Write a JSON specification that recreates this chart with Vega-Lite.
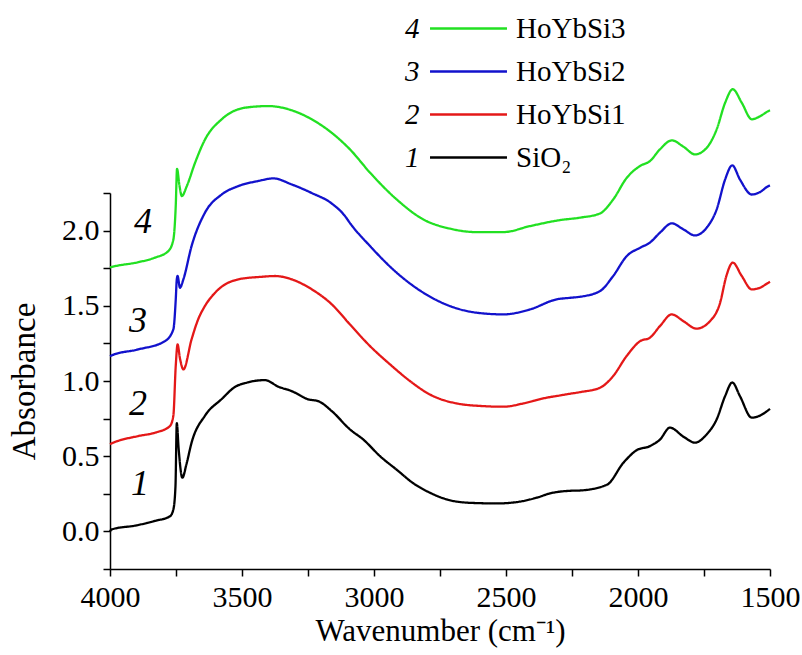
{
  "$schema": "https://vega.github.io/schema/vega-lite/v6.json",
  "width": 660,
  "height": 376,
  "autosize": {"type": "none"},
  "padding": {"left": 110, "top": 193, "right": 32, "bottom": 86},
  "background": "white",
  "config": {
    "view": {"stroke": null},
    "font": "Liberation Serif",
    "axis": {
      "grid": false,
      "domainColor": "black",
      "domainWidth": 1.5,
      "tickColor": "black",
      "tickWidth": 1.5,
      "tickSize": 7,
      "labelColor": "black",
      "labelFont": "Liberation Serif",
      "labelFontSize": 30,
      "titleColor": "black",
      "titleFont": "Liberation Serif",
      "titleFontWeight": "normal",
      "labelFlush": false,
      "labelOverlap": false,
      "tickCount": 30
    }
  },
  "datasets": {
    "spectra": [
      {"name": "SiO₂", "num": "1", "wn": 4000, "a": 0.0},
      {"name": "SiO₂", "num": "1", "wn": 3994, "a": 0.013},
      {"name": "SiO₂", "num": "1", "wn": 3900, "a": 0.04},
      {"name": "SiO₂", "num": "1", "wn": 3830, "a": 0.07},
      {"name": "SiO₂", "num": "1", "wn": 3773, "a": 0.1},
      {"name": "SiO₂", "num": "1", "wn": 3760, "a": 0.146},
      {"name": "SiO₂", "num": "1", "wn": 3752, "a": 0.3},
      {"name": "SiO₂", "num": "1", "wn": 3747, "a": 0.72},
      {"name": "SiO₂", "num": "1", "wn": 3740, "a": 0.55},
      {"name": "SiO₂", "num": "1", "wn": 3726, "a": 0.357},
      {"name": "SiO₂", "num": "1", "wn": 3710, "a": 0.45},
      {"name": "SiO₂", "num": "1", "wn": 3691, "a": 0.59},
      {"name": "SiO₂", "num": "1", "wn": 3640, "a": 0.77},
      {"name": "SiO₂", "num": "1", "wn": 3577, "a": 0.88},
      {"name": "SiO₂", "num": "1", "wn": 3527, "a": 0.96},
      {"name": "SiO₂", "num": "1", "wn": 3480, "a": 0.99},
      {"name": "SiO₂", "num": "1", "wn": 3413, "a": 1.006},
      {"name": "SiO₂", "num": "1", "wn": 3362, "a": 0.962},
      {"name": "SiO₂", "num": "1", "wn": 3312, "a": 0.933},
      {"name": "SiO₂", "num": "1", "wn": 3249, "a": 0.878},
      {"name": "SiO₂", "num": "1", "wn": 3211, "a": 0.866},
      {"name": "SiO₂", "num": "1", "wn": 3160, "a": 0.8},
      {"name": "SiO₂", "num": "1", "wn": 3091, "a": 0.678},
      {"name": "SiO₂", "num": "1", "wn": 3040, "a": 0.61},
      {"name": "SiO₂", "num": "1", "wn": 2977, "a": 0.5},
      {"name": "SiO₂", "num": "1", "wn": 2914, "a": 0.41},
      {"name": "SiO₂", "num": "1", "wn": 2851, "a": 0.32},
      {"name": "SiO₂", "num": "1", "wn": 2788, "a": 0.257},
      {"name": "SiO₂", "num": "1", "wn": 2725, "a": 0.213},
      {"name": "SiO₂", "num": "1", "wn": 2636, "a": 0.19},
      {"name": "SiO₂", "num": "1", "wn": 2535, "a": 0.186},
      {"name": "SiO₂", "num": "1", "wn": 2459, "a": 0.195},
      {"name": "SiO₂", "num": "1", "wn": 2384, "a": 0.224},
      {"name": "SiO₂", "num": "1", "wn": 2333, "a": 0.253},
      {"name": "SiO₂", "num": "1", "wn": 2258, "a": 0.27},
      {"name": "SiO₂", "num": "1", "wn": 2220, "a": 0.272},
      {"name": "SiO₂", "num": "1", "wn": 2118, "a": 0.31},
      {"name": "SiO₂", "num": "1", "wn": 2055, "a": 0.457},
      {"name": "SiO₂", "num": "1", "wn": 2005, "a": 0.54},
      {"name": "SiO₂", "num": "1", "wn": 1955, "a": 0.567},
      {"name": "SiO₂", "num": "1", "wn": 1917, "a": 0.61},
      {"name": "SiO₂", "num": "1", "wn": 1879, "a": 0.69},
      {"name": "SiO₂", "num": "1", "wn": 1828, "a": 0.63},
      {"name": "SiO₂", "num": "1", "wn": 1784, "a": 0.59},
      {"name": "SiO₂", "num": "1", "wn": 1740, "a": 0.645},
      {"name": "SiO₂", "num": "1", "wn": 1702, "a": 0.745},
      {"name": "SiO₂", "num": "1", "wn": 1670, "a": 0.9},
      {"name": "SiO₂", "num": "1", "wn": 1643, "a": 0.99},
      {"name": "SiO₂", "num": "1", "wn": 1614, "a": 0.9},
      {"name": "SiO₂", "num": "1", "wn": 1569, "a": 0.756},
      {"name": "SiO₂", "num": "1", "wn": 1538, "a": 0.77},
      {"name": "SiO₂", "num": "1", "wn": 1500, "a": 0.815},

      {"name": "HoYbSi1", "num": "2", "wn": 4000, "a": 0.58},
      {"name": "HoYbSi1", "num": "2", "wn": 3994, "a": 0.585},
      {"name": "HoYbSi1", "num": "2", "wn": 3893, "a": 0.634},
      {"name": "HoYbSi1", "num": "2", "wn": 3830, "a": 0.656},
      {"name": "HoYbSi1", "num": "2", "wn": 3773, "a": 0.7},
      {"name": "HoYbSi1", "num": "2", "wn": 3760, "a": 0.77},
      {"name": "HoYbSi1", "num": "2", "wn": 3751, "a": 1.1},
      {"name": "HoYbSi1", "num": "2", "wn": 3744, "a": 1.243},
      {"name": "HoYbSi1", "num": "2", "wn": 3735, "a": 1.15},
      {"name": "HoYbSi1", "num": "2", "wn": 3722, "a": 1.077},
      {"name": "HoYbSi1", "num": "2", "wn": 3691, "a": 1.277},
      {"name": "HoYbSi1", "num": "2", "wn": 3666, "a": 1.41},
      {"name": "HoYbSi1", "num": "2", "wn": 3640, "a": 1.5},
      {"name": "HoYbSi1", "num": "2", "wn": 3602, "a": 1.587},
      {"name": "HoYbSi1", "num": "2", "wn": 3514, "a": 1.676},
      {"name": "HoYbSi1", "num": "2", "wn": 3425, "a": 1.693},
      {"name": "HoYbSi1", "num": "2", "wn": 3375, "a": 1.698},
      {"name": "HoYbSi1", "num": "2", "wn": 3312, "a": 1.676},
      {"name": "HoYbSi1", "num": "2", "wn": 3236, "a": 1.61},
      {"name": "HoYbSi1", "num": "2", "wn": 3160, "a": 1.51},
      {"name": "HoYbSi1", "num": "2", "wn": 3091, "a": 1.376},
      {"name": "HoYbSi1", "num": "2", "wn": 3015, "a": 1.232},
      {"name": "HoYbSi1", "num": "2", "wn": 2939, "a": 1.11},
      {"name": "HoYbSi1", "num": "2", "wn": 2864, "a": 1.0},
      {"name": "HoYbSi1", "num": "2", "wn": 2788, "a": 0.91},
      {"name": "HoYbSi1", "num": "2", "wn": 2687, "a": 0.851},
      {"name": "HoYbSi1", "num": "2", "wn": 2586, "a": 0.833},
      {"name": "HoYbSi1", "num": "2", "wn": 2510, "a": 0.829},
      {"name": "HoYbSi1", "num": "2", "wn": 2434, "a": 0.851},
      {"name": "HoYbSi1", "num": "2", "wn": 2346, "a": 0.889},
      {"name": "HoYbSi1", "num": "2", "wn": 2295, "a": 0.904},
      {"name": "HoYbSi1", "num": "2", "wn": 2258, "a": 0.915},
      {"name": "HoYbSi1", "num": "2", "wn": 2220, "a": 0.926},
      {"name": "HoYbSi1", "num": "2", "wn": 2144, "a": 0.955},
      {"name": "HoYbSi1", "num": "2", "wn": 2094, "a": 1.033},
      {"name": "HoYbSi1", "num": "2", "wn": 2043, "a": 1.166},
      {"name": "HoYbSi1", "num": "2", "wn": 1992, "a": 1.265},
      {"name": "HoYbSi1", "num": "2", "wn": 1955, "a": 1.288},
      {"name": "HoYbSi1", "num": "2", "wn": 1917, "a": 1.365},
      {"name": "HoYbSi1", "num": "2", "wn": 1872, "a": 1.443},
      {"name": "HoYbSi1", "num": "2", "wn": 1828, "a": 1.398},
      {"name": "HoYbSi1", "num": "2", "wn": 1779, "a": 1.348},
      {"name": "HoYbSi1", "num": "2", "wn": 1727, "a": 1.398},
      {"name": "HoYbSi1", "num": "2", "wn": 1689, "a": 1.52},
      {"name": "HoYbSi1", "num": "2", "wn": 1665, "a": 1.7},
      {"name": "HoYbSi1", "num": "2", "wn": 1641, "a": 1.787},
      {"name": "HoYbSi1", "num": "2", "wn": 1607, "a": 1.698},
      {"name": "HoYbSi1", "num": "2", "wn": 1569, "a": 1.609},
      {"name": "HoYbSi1", "num": "2", "wn": 1538, "a": 1.62},
      {"name": "HoYbSi1", "num": "2", "wn": 1506, "a": 1.654},
      {"name": "HoYbSi1", "num": "2", "wn": 1500, "a": 1.66},

      {"name": "HoYbSi2", "num": "3", "wn": 4000, "a": 1.165},
      {"name": "HoYbSi2", "num": "3", "wn": 3994, "a": 1.17},
      {"name": "HoYbSi2", "num": "3", "wn": 3893, "a": 1.21},
      {"name": "HoYbSi2", "num": "3", "wn": 3792, "a": 1.265},
      {"name": "HoYbSi2", "num": "3", "wn": 3760, "a": 1.343},
      {"name": "HoYbSi2", "num": "3", "wn": 3751, "a": 1.54},
      {"name": "HoYbSi2", "num": "3", "wn": 3747, "a": 1.676},
      {"name": "HoYbSi2", "num": "3", "wn": 3744, "a": 1.698},
      {"name": "HoYbSi2", "num": "3", "wn": 3735, "a": 1.62},
      {"name": "HoYbSi2", "num": "3", "wn": 3722, "a": 1.676},
      {"name": "HoYbSi2", "num": "3", "wn": 3691, "a": 1.897},
      {"name": "HoYbSi2", "num": "3", "wn": 3640, "a": 2.12},
      {"name": "HoYbSi2", "num": "3", "wn": 3577, "a": 2.24},
      {"name": "HoYbSi2", "num": "3", "wn": 3514, "a": 2.296},
      {"name": "HoYbSi2", "num": "3", "wn": 3438, "a": 2.33},
      {"name": "HoYbSi2", "num": "3", "wn": 3381, "a": 2.347},
      {"name": "HoYbSi2", "num": "3", "wn": 3312, "a": 2.307},
      {"name": "HoYbSi2", "num": "3", "wn": 3236, "a": 2.25},
      {"name": "HoYbSi2", "num": "3", "wn": 3160, "a": 2.18},
      {"name": "HoYbSi2", "num": "3", "wn": 3110, "a": 2.097},
      {"name": "HoYbSi2", "num": "3", "wn": 3091, "a": 2.05},
      {"name": "HoYbSi2", "num": "3", "wn": 3015, "a": 1.897},
      {"name": "HoYbSi2", "num": "3", "wn": 2914, "a": 1.72},
      {"name": "HoYbSi2", "num": "3", "wn": 2813, "a": 1.587},
      {"name": "HoYbSi2", "num": "3", "wn": 2712, "a": 1.498},
      {"name": "HoYbSi2", "num": "3", "wn": 2611, "a": 1.454},
      {"name": "HoYbSi2", "num": "3", "wn": 2510, "a": 1.443},
      {"name": "HoYbSi2", "num": "3", "wn": 2409, "a": 1.476},
      {"name": "HoYbSi2", "num": "3", "wn": 2308, "a": 1.543},
      {"name": "HoYbSi2", "num": "3", "wn": 2258, "a": 1.553},
      {"name": "HoYbSi2", "num": "3", "wn": 2220, "a": 1.56},
      {"name": "HoYbSi2", "num": "3", "wn": 2144, "a": 1.598},
      {"name": "HoYbSi2", "num": "3", "wn": 2094, "a": 1.698},
      {"name": "HoYbSi2", "num": "3", "wn": 2043, "a": 1.83},
      {"name": "HoYbSi2", "num": "3", "wn": 1992, "a": 1.886},
      {"name": "HoYbSi2", "num": "3", "wn": 1955, "a": 1.92},
      {"name": "HoYbSi2", "num": "3", "wn": 1917, "a": 1.986},
      {"name": "HoYbSi2", "num": "3", "wn": 1872, "a": 2.048},
      {"name": "HoYbSi2", "num": "3", "wn": 1828, "a": 2.008},
      {"name": "HoYbSi2", "num": "3", "wn": 1784, "a": 1.968},
      {"name": "HoYbSi2", "num": "3", "wn": 1740, "a": 2.019},
      {"name": "HoYbSi2", "num": "3", "wn": 1702, "a": 2.141},
      {"name": "HoYbSi2", "num": "3", "wn": 1670, "a": 2.34},
      {"name": "HoYbSi2", "num": "3", "wn": 1643, "a": 2.434},
      {"name": "HoYbSi2", "num": "3", "wn": 1614, "a": 2.34},
      {"name": "HoYbSi2", "num": "3", "wn": 1569, "a": 2.24},
      {"name": "HoYbSi2", "num": "3", "wn": 1538, "a": 2.256},
      {"name": "HoYbSi2", "num": "3", "wn": 1506, "a": 2.296},
      {"name": "HoYbSi2", "num": "3", "wn": 1500, "a": 2.3},

      {"name": "HoYbSi3", "num": "4", "wn": 4000, "a": 1.755},
      {"name": "HoYbSi3", "num": "4", "wn": 3994, "a": 1.758},
      {"name": "HoYbSi3", "num": "4", "wn": 3893, "a": 1.79},
      {"name": "HoYbSi3", "num": "4", "wn": 3830, "a": 1.82},
      {"name": "HoYbSi3", "num": "4", "wn": 3779, "a": 1.864},
      {"name": "HoYbSi3", "num": "4", "wn": 3760, "a": 1.94},
      {"name": "HoYbSi3", "num": "4", "wn": 3751, "a": 2.163},
      {"name": "HoYbSi3", "num": "4", "wn": 3746, "a": 2.41},
      {"name": "HoYbSi3", "num": "4", "wn": 3737, "a": 2.3},
      {"name": "HoYbSi3", "num": "4", "wn": 3728, "a": 2.23},
      {"name": "HoYbSi3", "num": "4", "wn": 3709, "a": 2.296},
      {"name": "HoYbSi3", "num": "4", "wn": 3678, "a": 2.45},
      {"name": "HoYbSi3", "num": "4", "wn": 3640, "a": 2.606},
      {"name": "HoYbSi3", "num": "4", "wn": 3577, "a": 2.74},
      {"name": "HoYbSi3", "num": "4", "wn": 3489, "a": 2.817},
      {"name": "HoYbSi3", "num": "4", "wn": 3400, "a": 2.828},
      {"name": "HoYbSi3", "num": "4", "wn": 3312, "a": 2.8},
      {"name": "HoYbSi3", "num": "4", "wn": 3236, "a": 2.74},
      {"name": "HoYbSi3", "num": "4", "wn": 3160, "a": 2.65},
      {"name": "HoYbSi3", "num": "4", "wn": 3110, "a": 2.573},
      {"name": "HoYbSi3", "num": "4", "wn": 3091, "a": 2.54},
      {"name": "HoYbSi3", "num": "4", "wn": 3015, "a": 2.385},
      {"name": "HoYbSi3", "num": "4", "wn": 2914, "a": 2.207},
      {"name": "HoYbSi3", "num": "4", "wn": 2813, "a": 2.074},
      {"name": "HoYbSi3", "num": "4", "wn": 2712, "a": 2.013},
      {"name": "HoYbSi3", "num": "4", "wn": 2611, "a": 1.99},
      {"name": "HoYbSi3", "num": "4", "wn": 2510, "a": 1.99},
      {"name": "HoYbSi3", "num": "4", "wn": 2409, "a": 2.03},
      {"name": "HoYbSi3", "num": "4", "wn": 2295, "a": 2.07},
      {"name": "HoYbSi3", "num": "4", "wn": 2220, "a": 2.086},
      {"name": "HoYbSi3", "num": "4", "wn": 2144, "a": 2.114},
      {"name": "HoYbSi3", "num": "4", "wn": 2094, "a": 2.207},
      {"name": "HoYbSi3", "num": "4", "wn": 2043, "a": 2.35},
      {"name": "HoYbSi3", "num": "4", "wn": 1992, "a": 2.43},
      {"name": "HoYbSi3", "num": "4", "wn": 1955, "a": 2.462},
      {"name": "HoYbSi3", "num": "4", "wn": 1917, "a": 2.54},
      {"name": "HoYbSi3", "num": "4", "wn": 1872, "a": 2.6},
      {"name": "HoYbSi3", "num": "4", "wn": 1828, "a": 2.558},
      {"name": "HoYbSi3", "num": "4", "wn": 1784, "a": 2.507},
      {"name": "HoYbSi3", "num": "4", "wn": 1740, "a": 2.55},
      {"name": "HoYbSi3", "num": "4", "wn": 1702, "a": 2.673},
      {"name": "HoYbSi3", "num": "4", "wn": 1670, "a": 2.85},
      {"name": "HoYbSi3", "num": "4", "wn": 1641, "a": 2.94},
      {"name": "HoYbSi3", "num": "4", "wn": 1607, "a": 2.85},
      {"name": "HoYbSi3", "num": "4", "wn": 1569, "a": 2.74},
      {"name": "HoYbSi3", "num": "4", "wn": 1538, "a": 2.76},
      {"name": "HoYbSi3", "num": "4", "wn": 1506, "a": 2.795},
      {"name": "HoYbSi3", "num": "4", "wn": 1500, "a": 2.8}
    ],
    "tags": [
      {"num": "4", "wn": 3875, "a": 2.055},
      {"num": "3", "wn": 3894, "a": 1.396},
      {"num": "2", "wn": 3894, "a": 0.844},
      {"num": "1", "wn": 3886, "a": 0.312}
    ]
  },
  "layer": [
    {
      "data": {"name": "spectra"},
      "mark": {"type": "line", "strokeWidth": 2.3, "interpolate": "monotone", "clip": false},
      "encoding": {
        "x": {
          "field": "wn", "type": "quantitative",
          "scale": {"domain": [1500, 4000], "reverse": true, "nice": false, "zero": false},
          "axis": {
            "title": "Wavenumber (cm⁻¹)",
            "titleFontSize": 31,
            "titlePadding": 4,
            "tickCount": 30,
            "values": [4000, 3750, 3500, 3250, 3000, 2750, 2500, 2250, 2000, 1750, 1500],
            "format": "d",
            "labelExpr": "datum.value % 500 === 0 ? datum.label : ''",
            "labelPadding": 6
          }
        },
        "y": {
          "field": "a", "type": "quantitative",
          "scale": {"domain": [-0.25, 2.25], "nice": false, "zero": false},
          "axis": {
            "title": "Absorbance",
            "titleFontSize": 33,
            "titlePadding": 20,
            "tickCount": 30,
            "values": [-0.25, 0, 0.25, 0.5, 0.75, 1, 1.25, 1.5, 1.75, 2, 2.25],
            "format": ".1f",
            "labelExpr": "indexof(['0.0','0.5','1.0','1.5','2.0'], datum.label) >= 0 ? datum.label : ''",
            "labelPadding": 4
          }
        },
        "color": {
          "field": "name", "type": "nominal",
          "scale": {
            "domain": ["HoYbSi3", "HoYbSi2", "HoYbSi1", "SiO₂"],
            "range": ["#22e022", "#1212cc", "#e41818", "#000000"]
          },
          "legend": {
            "orient": "none", "legendX": 344, "legendY": -179,
            "title": null, "padding": 0,
            "symbolType": "M-5,0H5", "symbolSize": 237, "symbolStrokeWidth": 2.5,
            "labelFont": "Liberation Serif", "labelFontSize": 29, "labelColor": "black",
            "labelOffset": 33, "rowPadding": 13
          }
        },
        "strokeDash": {
          "field": "num", "type": "nominal",
          "scale": {"domain": ["4", "3", "2", "1"], "range": [[1, 0], [1, 0], [1, 0], [1, 0]]},
          "legend": {
            "orient": "none", "legendX": 266, "legendY": -179,
            "title": null, "padding": 0,
            "symbolSize": 237, "symbolOpacity": 0, "symbolStrokeWidth": 0,
            "labelFont": "Liberation Serif", "labelFontSize": 29, "labelFontStyle": "italic", "labelColor": "black",
            "labelOffset": 0, "rowPadding": 13
          }
        }
      }
    },
    {
      "data": {"name": "tags"},
      "mark": {"type": "text", "font": "Liberation Serif", "fontStyle": "italic", "fontSize": 36, "color": "black", "align": "center", "baseline": "middle"},
      "encoding": {
        "x": {"field": "wn", "type": "quantitative"},
        "y": {"field": "a", "type": "quantitative"},
        "text": {"field": "num"}
      }
    }
  ]
}
